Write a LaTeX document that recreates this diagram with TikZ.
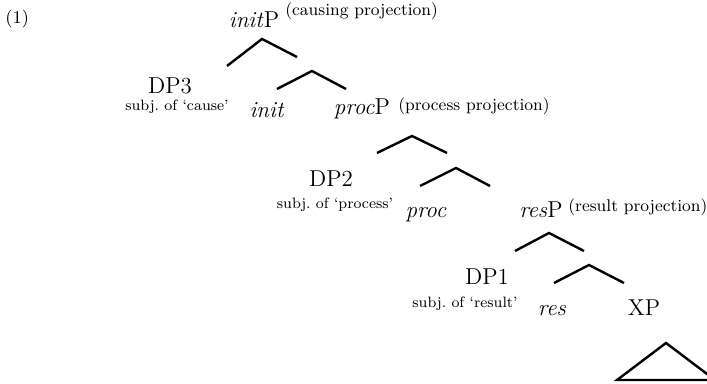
\documentclass[tikz,border=0pt]{standalone}
\usepackage{tikz}

\tikzset{
  catlabel/.style={font=\fontsize{11.5}{13}\selectfont, inner sep=0pt, anchor=base},
  subjnote/.style={font=\fontsize{7.5}{9}\selectfont, inner sep=0pt, anchor=base},
  projnote/.style={font=\fontsize{8.5}{10}\selectfont, inner sep=0pt, anchor=base west},
  branch/.style={line width=1.2pt}
}

\begin{document}
\begin{tikzpicture}[x=0.5pt, y=-0.5pt]

    \useasboundingbox (0,0) rectangle (707,384);

    % Numero del ejemplo
    \node[subjnote, anchor=base west, font=\fontsize{9}{11}\selectfont] (ex) at (5,24) {(1)};

    % Proyecciones
    \node[catlabel] (initP) at (254,28) {\textit{init}P};
    \node[projnote] (initPnote) at (285,16) {(causing projection)};
    \node[catlabel] (procP) at (362,115) {\textit{proc}P};
    \node[projnote] (procPnote) at (398,111) {(process projection)};
    \node[catlabel] (resP) at (541,218) {\textit{res}P};
    \node[projnote] (resPnote) at (568,212) {(result projection)};

    % Sujetos
    \node[catlabel] (DP3) at (170,94) {DP3};
    \node[subjnote] (DP3note) at (177,111) {subj.\ of `cause'};
    \node[catlabel] (DP2) at (331,187) {DP2};
    \node[subjnote] (DP2note) at (335,209) {subj.\ of `process'};
    \node[catlabel] (DP1) at (487,285) {DP1};
    \node[subjnote] (DP1note) at (465,308) {subj.\ of `result'};

    % Núcleos
    \node[catlabel] (init) at (267,118) {\textit{init}};
    \node[catlabel] (proc) at (426,218) {\textit{proc}};
    \node[catlabel] (res) at (552,316) {\textit{res}};
    \node[catlabel] (XP) at (644,316) {XP};

    % Ramas
    \coordinate (br1) at (262,39);
    \coordinate (br2) at (312,71);
    \coordinate (br3) at (412,136);
    \coordinate (br4) at (456,168);
    \coordinate (br5) at (549,233);
    \coordinate (br6) at (589,265);
    \draw[branch] (br1) ++(-35,27) -- (br1) -- ++(35,18);
    \draw[branch] (br2) ++(-35,18) -- (br2) -- ++(34,18);
    \draw[branch] (br3) ++(-35,17) -- (br3) -- ++(35,17);
    \draw[branch] (br4) ++(-36,18) -- (br4) -- ++(34,18);
    \draw[branch] (br5) ++(-34,18) -- (br5) -- ++(35,18);
    \draw[branch] (br6) ++(-35,18) -- (br6) -- ++(35,18);

    % Triángulo
    \coordinate (tri) at (666,343);
    \draw[branch, line join=miter] (tri) -- ++(-49,37) -- ++(98,0) -- cycle;

\end{tikzpicture}
\end{document}
